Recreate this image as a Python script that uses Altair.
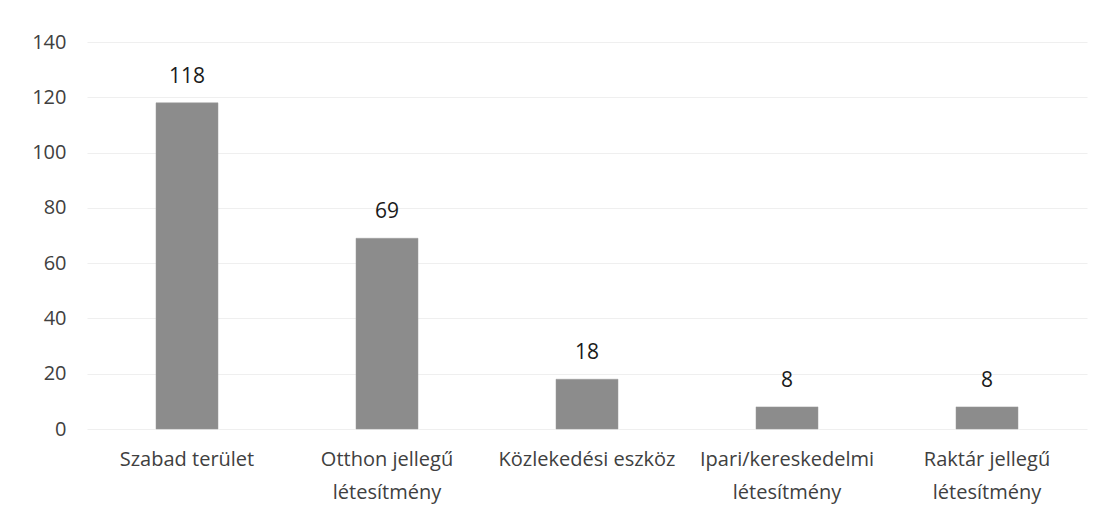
import altair as alt
import pandas as pd

categories = [
    "Szabad terület",
    "Otthon jellegű\nlétesítmény",
    "Közlekedési eszköz",
    "Ipari/kereskedelmi\nlétesítmény",
    "Raktár jellegű\nlétesítmény",
]
values = [118, 69, 18, 8, 8]
y_ticks = [0, 20, 40, 60, 80, 100, 120, 140]

df = pd.DataFrame({"cat": categories, "val": values})

FONT = "Open Sans"

x = alt.X(
    "cat:N",
    sort=categories,
    title=None,
    scale=alt.Scale(paddingInner=0.69, paddingOuter=0.345),
    axis=alt.Axis(
        labelAngle=0,
        labelExpr="split(datum.label, '\\n')",
        labelFont=FONT,
        labelFontSize=20,
        labelColor="#404040",
        labelPadding=20,
        labelLineHeight=33,
        domain=False,
        ticks=False,
        grid=False,
    ),
)
y = alt.Y(
    "val:Q",
    title=None,
    scale=alt.Scale(domain=[0, 140], nice=False),
    axis=alt.Axis(
        values=y_ticks,
        labelFont=FONT,
        labelFontSize=20,
        labelColor="#404040",
        labelPadding=21,
        domain=False,
        ticks=False,
        gridColor="#efefef",
        gridWidth=1,
    ),
)

bars = alt.Chart(df).mark_bar(color="#8c8c8c", stroke="#9a9a9a", strokeWidth=0.5).encode(x=x, y=y)
labels = alt.Chart(df).mark_text(
    font=FONT, fontSize=21, color="#1a1a1a", baseline="alphabetic", dy=-20
).encode(x=alt.X("cat:N", sort=categories), y="val:Q", text="val:Q")

chart = (
    alt.layer(bars, labels)
    .properties(
        width=1000,
        height=387,
        background="white",
        autosize=alt.AutoSizeParams(type="none"),
        padding={"left": 79, "top": 34, "right": 9, "bottom": 80},
    )
    .configure_view(strokeWidth=0, strokeOpacity=0)
)

chart.save("out.html", embed_options={"renderer": "svg", "actions": False})
